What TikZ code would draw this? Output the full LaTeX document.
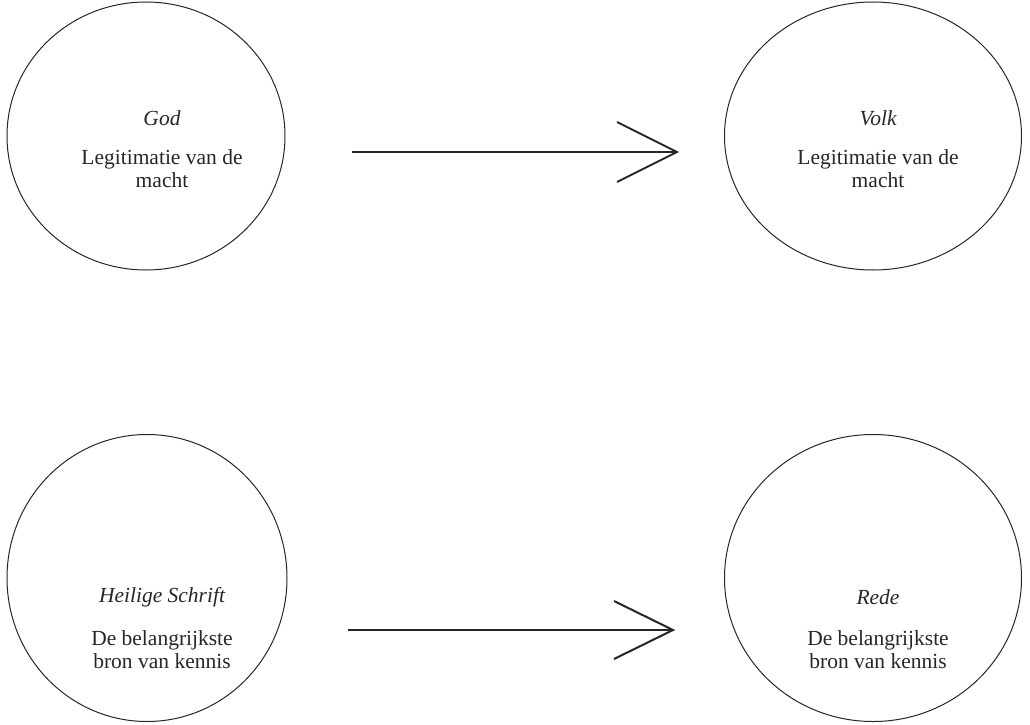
\documentclass[tikz,border=0pt]{standalone}
\usepackage{fontspec}
\setmainfont{Liberation Serif}
\usetikzlibrary{shapes.geometric}
\begin{document}
\begin{tikzpicture}[x=1pt,y=-1pt,
  blob/.style={draw=black!85,line width=1pt,ellipse,inner sep=0pt},
  lbl/.style={font=\fontsize{21.5}{23}\selectfont,align=center,text=black!85},
  ital/.style={font=\fontsize{21.5}{23}\selectfont\itshape,text=black!85},
  arr/.style={draw=black!85,line width=2pt}]
\useasboundingbox (0,0) rectangle (1030,725);
% ellipses
\node[blob,minimum width=278pt,minimum height=268pt] (c1) at (146,136) {};
\node[blob,minimum width=297pt,minimum height=268pt] (c2) at (873,136) {};
\node[blob,minimum width=280pt,minimum height=287pt] (c3) at (147,578) {};
\node[blob,minimum width=297pt,minimum height=287pt] (c4) at (873,578) {};
% texts
\node[ital] (t1) at (162,118) {God};
\node[lbl,anchor=north] (s1) at (162,146) {Legitimatie van de\\macht};
\node[ital] (t2) at (878,118) {Volk};
\node[lbl,anchor=north] (s2) at (878,146) {Legitimatie van de\\macht};
\node[ital] (t3) at (162,597) {Heilige Schrift};
\node[lbl,anchor=north] (s3) at (162,627) {De belangrijkste\\bron van kennis};
\node[ital] (t4) at (878,597) {Rede};
\node[lbl,anchor=north] (s4) at (878,627) {De belangrijkste\\bron van kennis};
% arrows
\coordinate (a1s) at (352,152);
\coordinate (a1e) at (677,152);
\coordinate (a1u) at (617,122);
\coordinate (a1d) at (617,182);
\draw[arr] (a1s) -- (a1e);
\draw[arr,line join=miter] (a1u) -- (a1e) -- (a1d);
\coordinate (a2s) at (348,630);
\coordinate (a2e) at (673,630);
\coordinate (a2u) at (614,601);
\coordinate (a2d) at (614,659);
\draw[arr] (a2s) -- (a2e);
\draw[arr,line join=miter] (a2u) -- (a2e) -- (a2d);
\end{tikzpicture}
\end{document}
